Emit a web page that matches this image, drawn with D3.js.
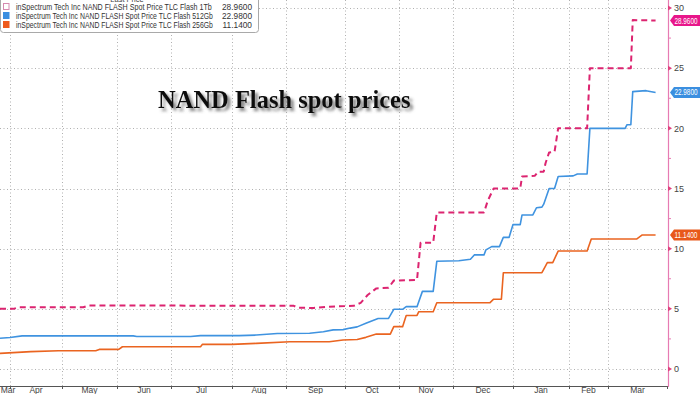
<!DOCTYPE html>
<html>
<head>
<meta charset="utf-8">
<script src="https://cdn.jsdelivr.net/npm/d3@7"></script>
<style>
  html, body { margin: 0; padding: 0; background: #fff; }
  svg { display: block; }
</style>
</head>
<body>
<div id="chart"></div>
<script>
// Month boundaries shown on the x axis (the picture's axis is not evenly spaced)
const monthStarts = ["2025-03-26", "2025-04-01", "2025-05-01", "2025-06-01", "2025-07-01", "2025-08-01",
  "2025-09-01", "2025-10-01", "2025-11-01", "2025-12-01", "2026-01-01", "2026-02-01", "2026-03-01", "2026-04-01"];
const monthLabels = ["Mar", "Apr", "May", "Jun", "Jul", "Aug", "Sep", "Oct", "Nov", "Dec", "Jan", "Feb", "Mar"];
const yTicks = [0, 5, 10, 15, 20, 25, 30];

const seriesNames = [
  "inSpectrum Tech Inc NAND FLASH Spot Price TLC Flash 1Tb",
  "inSpectrum Tech Inc NAND FLASH Spot Price TLC Flash 512Gb",
  "inSpectrum Tech Inc NAND FLASH Spot Price TLC Flash 256Gb",
];
const lastPrices = [28.96, 22.98, 11.14];

// TLC 1Tb
const tb1 = [
  ["2025-03-26", 5.0], ["2025-04-03", 5.0], ["2025-04-06", 5.13], ["2025-05-13", 5.13], ["2025-05-16", 5.28],
  ["2025-09-05", 5.25], ["2025-09-07", 5.1], ["2025-09-15", 5.07], ["2025-09-23", 5.18], ["2025-10-06", 5.25],
  ["2025-10-10", 5.5], ["2025-10-14", 6.15], ["2025-10-19", 6.7], ["2025-10-26", 6.75], ["2025-10-29", 7.35],
  ["2025-11-11", 7.4], ["2025-11-13", 10.5], ["2025-11-20", 10.5], ["2025-11-22", 13.0], ["2025-12-17", 13.0],
  ["2025-12-19", 14.0], ["2025-12-22", 15.0], ["2026-01-05", 15.0], ["2026-01-06", 16.0], ["2026-01-13", 16.05],
  ["2026-01-15", 16.4], ["2026-01-18", 16.4], ["2026-01-19", 17.1], ["2026-01-21", 18.0], ["2026-01-24", 18.05],
  ["2026-01-26", 20.0], ["2026-02-14", 20.0], ["2026-02-16", 25.0], ["2026-03-13", 25.0], ["2026-03-14", 29.0],
  ["2026-03-26", 28.96],
];

// TLC 512Gb
const gb512 = [
  ["2025-03-26", 2.55], ["2025-04-01", 2.62], ["2025-04-08", 2.75], ["2025-06-10", 2.75], ["2025-06-12", 2.7],
  ["2025-07-11", 2.7], ["2025-07-16", 2.77], ["2025-08-05", 2.77], ["2025-08-15", 2.82], ["2025-08-27", 2.95],
  ["2025-09-13", 2.97], ["2025-09-20", 3.1], ["2025-09-25", 3.25], ["2025-09-30", 3.27], ["2025-10-04", 3.4],
  ["2025-10-08", 3.5], ["2025-10-13", 3.8], ["2025-10-20", 4.2], ["2025-10-26", 4.2], ["2025-10-29", 4.96],
  ["2025-11-03", 4.96], ["2025-11-05", 5.18], ["2025-11-11", 5.18], ["2025-11-14", 6.45], ["2025-11-20", 6.45],
  ["2025-11-22", 8.95], ["2025-12-04", 9.0], ["2025-12-10", 9.12], ["2025-12-12", 9.48], ["2025-12-17", 9.48],
  ["2025-12-18", 9.9], ["2025-12-21", 10.17], ["2025-12-25", 10.17], ["2025-12-27", 10.94], ["2025-12-30", 10.94],
  ["2026-01-01", 12.0], ["2026-01-05", 12.0], ["2026-01-06", 12.8], ["2026-01-12", 12.8], ["2026-01-14", 13.4],
  ["2026-01-17", 13.45], ["2026-01-18", 13.7], ["2026-01-21", 15.0], ["2026-01-24", 15.0], ["2026-01-26", 16.0],
  ["2026-02-04", 16.05], ["2026-02-07", 16.2], ["2026-02-14", 16.2], ["2026-02-16", 20.0], ["2026-03-10", 20.0],
  ["2026-03-11", 20.3], ["2026-03-13", 20.3], ["2026-03-14", 23.05], ["2026-03-21", 23.13], ["2026-03-26", 22.98],
];

// TLC 256Gb
const gb256 = [
  ["2025-03-26", 1.3], ["2025-04-13", 1.44], ["2025-04-29", 1.52], ["2025-05-20", 1.52], ["2025-05-22", 1.63],
  ["2025-06-02", 1.63], ["2025-06-04", 1.85], ["2025-07-16", 1.85], ["2025-07-17", 2.05], ["2025-08-01", 2.05],
  ["2025-08-15", 2.13], ["2025-09-03", 2.27], ["2025-09-23", 2.27], ["2025-09-30", 2.41], ["2025-10-08", 2.45],
  ["2025-10-13", 2.63], ["2025-10-19", 2.9], ["2025-10-27", 2.9], ["2025-10-29", 3.52], ["2025-11-03", 3.52],
  ["2025-11-05", 4.45], ["2025-11-11", 4.45], ["2025-11-12", 4.76], ["2025-11-20", 4.76], ["2025-11-22", 5.5],
  ["2025-12-20", 5.5], ["2025-12-22", 5.8], ["2025-12-26", 5.8], ["2025-12-27", 8.0], ["2026-01-17", 8.0],
  ["2026-01-18", 8.28], ["2026-01-20", 8.84], ["2026-01-23", 8.84], ["2026-01-26", 9.8], ["2026-02-14", 9.8],
  ["2026-02-17", 10.8], ["2026-03-16", 10.8], ["2026-03-19", 11.14], ["2026-03-26", 11.14],
];

const W = 700, H = 394;
const plotRight = 668, axisY = 386;
const parse = d3.timeParse("%Y-%m-%d");

const svg = d3.select("#chart").append("svg")
  .attr("width", W).attr("height", H)
  .attr("font-family", "'Liberation Sans', Arial, sans-serif");

const x = d3.scaleTime()
  .domain(monthStarts.map(parse))
  .range([0, 10, 62, 117, 171, 232, 286, 345, 399, 453, 513, 569, 608, 667]);
const y = d3.scaleLinear().domain([0, 30]).range([369, 8]);

// squeeze a text horizontally so it spans `width` px from (tx, ty)
function squeezed(parent, tx, ty, width, anchor) {
  const g = parent.append("g");
  const t = g.append("text");
  return {
    t,
    fit() {
      const len = t.node().getComputedTextLength();
      const k = Math.min(1, width / len);
      const x0 = anchor === "end" ? tx - len * k : tx;
      g.attr("transform", `translate(${x0},${ty}) scale(${k},1)`);
      return t;
    },
  };
}

// grid
const grid = svg.append("g").attr("stroke", "#b0b0b0").attr("stroke-width", 1)
  .attr("stroke-dasharray", "1,2.5");
grid.selectAll("line.h").data(yTicks).join("line")
  .attr("x1", 0).attr("x2", plotRight)
  .attr("y1", (d) => Math.round(y(d)) + 0.5).attr("y2", (d) => Math.round(y(d)) + 0.5);
grid.selectAll("line.v").data(monthStarts.slice(1, -1)).join("line")
  .attr("x1", (d) => Math.round(x(parse(d))) + 0.5).attr("x2", (d) => Math.round(x(parse(d))) + 0.5)
  .attr("y1", 0).attr("y2", axisY);

// series
const series = [
  { data: tb1, color: "#dc2470", width: 2, dash: "6,4" },
  { data: gb512, color: "#3f93e0", width: 1.6, dash: null },
  { data: gb256, color: "#ea6420", width: 1.6, dash: null },
];
const line = d3.line().x((d) => x(parse(d[0]))).y((d) => y(d[1]));
series.forEach((s) => {
  svg.append("path")
    .attr("d", line(s.data))
    .attr("fill", "none")
    .attr("stroke", s.color)
    .attr("stroke-width", s.width)
    .attr("stroke-dasharray", s.dash)
    .attr("stroke-linejoin", "round");
});

// x axis
svg.append("line").attr("x1", 0).attr("x2", plotRight).attr("y1", axisY + 0.5).attr("y2", axisY + 0.5)
  .attr("stroke", "#555");
svg.selectAll("line.xt").data(monthStarts.slice(1)).join("line")
  .attr("x1", (d) => Math.round(x(parse(d))) + 0.5).attr("x2", (d) => Math.round(x(parse(d))) + 0.5)
  .attr("y1", axisY).attr("y2", axisY + 3).attr("stroke", "#555");
svg.selectAll("text.xl").data(monthLabels).join("text")
  .attr("x", (d, i) => Math.max(8, (x(parse(monthStarts[i])) + x(parse(monthStarts[i + 1]))) / 2))
  .attr("y", 393)
  .attr("text-anchor", "middle")
  .attr("font-size", 8.5)
  .attr("fill", "#444")
  .text((d) => d);

// right y axis
svg.append("line").attr("x1", plotRight + 0.5).attr("x2", plotRight + 0.5).attr("y1", 0).attr("y2", axisY + 1)
  .attr("stroke", "#e77bb3").attr("stroke-width", 1.2);
svg.selectAll("line.minor").data(d3.range(2.5, 30, 5)).join("line")
  .attr("x1", plotRight).attr("x2", plotRight + 3)
  .attr("y1", (d) => y(d)).attr("y2", (d) => y(d))
  .attr("stroke", "#e77bb3");
svg.selectAll("path.tick").data(yTicks).join("path")
  .attr("d", (d) => `M${plotRight},${y(d) - 2.5} L${plotRight + 4},${y(d)} L${plotRight},${y(d) + 2.5} Z`)
  .attr("fill", "#e0407f");
svg.selectAll("text.yl").data(yTicks).join("text")
  .attr("x", 674).attr("y", (d) => y(d) + 3.2)
  .attr("font-size", 9).attr("fill", "#444")
  .text((d) => d);

// last price tags
const tagColors = ["#e8168a", "#3b8fe0", "#e8581a"];
lastPrices.forEach((v, i) => {
  const cy = y(v);
  svg.append("path")
    .attr("d", `M670,${cy} L674,${cy - 5.5} L700,${cy - 5.5} L700,${cy + 5.5} L674,${cy + 5.5} Z`)
    .attr("fill", tagColors[i]);
  const s = squeezed(svg, 674.5, cy + 3, 23);
  s.t.attr("font-size", 8.5).attr("fill", "#fff").text(v.toFixed(4));
  s.fit();
});

// title with shadow
const defs = svg.append("defs");
defs.append("filter").attr("id", "shadow").attr("x", "-10%").attr("y", "-30%").attr("width", "130%").attr("height", "180%")
  .append("feDropShadow").attr("dx", 3).attr("dy", 3).attr("stdDeviation", 1.8)
  .attr("flood-color", "#555").attr("flood-opacity", 0.75);
svg.append("text")
  .attr("x", 158).attr("y", 108)
  .attr("font-family", "'Liberation Serif', 'Times New Roman', serif")
  .attr("font-weight", "bold")
  .attr("font-size", 24.5)
  .attr("fill", "#111")
  .attr("filter", "url(#shadow)")
  .text("NAND Flash spot prices");

// legend
const lg = svg.append("g");
lg.append("rect").attr("x", 0.5).attr("y", -6).attr("width", 258).attr("height", 38.5).attr("rx", 3)
  .attr("fill", "#fff").attr("stroke", "#a9a9a9");
lg.append("text").attr("x", 127).attr("y", 2).attr("text-anchor", "middle")
  .attr("font-size", 7.5).attr("fill", "#444").text("Last Price");
const swatchFill = ["#fff", "#3b8fe0", "#ee5a1c"];
const swatchStroke = ["#d58ab0", "#3b8fe0", "#ee5a1c"];
const nameWidths = [196, 197, 197];
seriesNames.forEach((name, i) => {
  const by = 10 + i * 9;
  lg.append("rect").attr("x", 3.5).attr("y", by - 6.5).attr("width", 5.5).attr("height", 6)
    .attr("fill", swatchFill[i]).attr("stroke", swatchStroke[i]);
  const n = squeezed(lg, 16, by, nameWidths[i]);
  n.t.attr("font-size", 8.3).attr("fill", "#333").text(name);
  n.fit();
  const v = squeezed(lg, 252, by, 31, "end");
  v.t.attr("font-size", 8.3).attr("fill", "#333").text(lastPrices[i].toFixed(4));
  v.fit();
});
</script>
</body>
</html>
